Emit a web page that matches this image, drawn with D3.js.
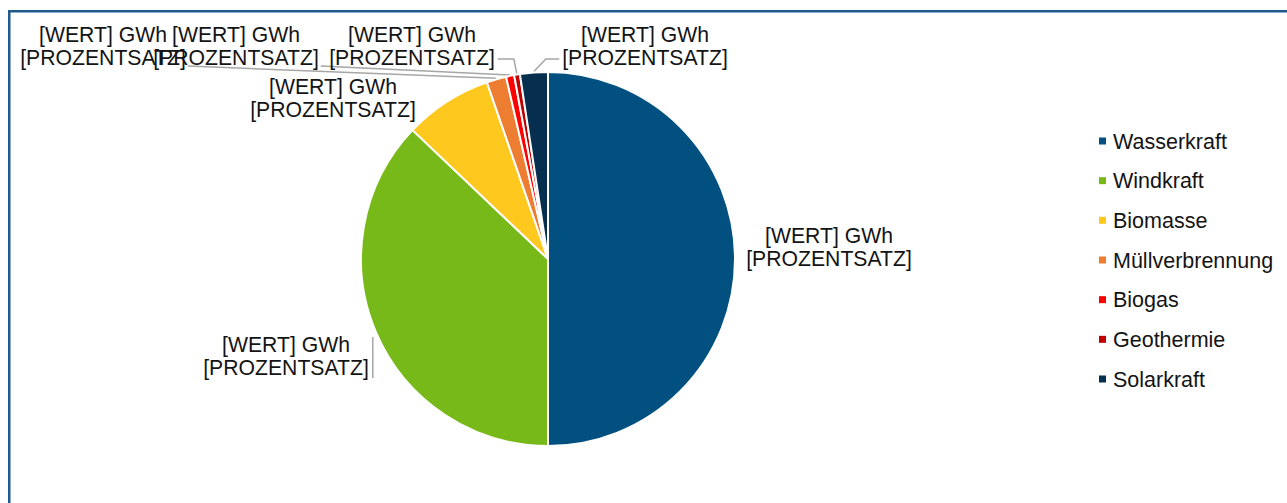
<!DOCTYPE html>
<html>
<head>
<meta charset="utf-8">
<script src="https://cdn.jsdelivr.net/npm/d3@7/dist/d3.min.js"></script>
<style>
  html, body { margin: 0; padding: 0; background: #fff; }
  svg { display: block; }
  text { font-family: "Liberation Sans", Arial, sans-serif; fill: #141414; }
</style>
</head>
<body>
<svg id="chart" width="1287" height="503"></svg>
<script>
// Energy sources and their share of production (%)
const sources = ["Wasserkraft", "Windkraft", "Biomasse", "Müllverbrennung", "Biogas", "Geothermie", "Solarkraft"];
const shares  = [50.0, 37.1, 7.6, 1.7, 0.7, 0.5, 2.4];
const colors  = ["#01507f", "#78b91a", "#fec81e", "#ed7d31", "#ff0000", "#c00000", "#062e4e"];
const labelLines = ["[WERT] GWh", "[PROZENTSATZ]"];

// Label placement (centre x, first baseline) and leader style per slice
const labelPos = [
  { x: 829, y: 243, leader: "none" },
  { x: 286, y: 352, leader: "side" },
  { x: 333, y: 94,  leader: "none" },
  { x: 103, y: 42,  leader: "straight" },
  { x: 236, y: 42,  leader: "straight" },
  { x: 412, y: 42,  leader: "knee" },
  { x: 645, y: 42,  leader: "knee" }
];

const W = 1287, H = 503;
const cx = 548, cy = 259, R = 187;
const fontSize = 21.2, lineH = 23;

const svg = d3.select("#chart");

// chart frame (only top and left edges fall inside the view)
svg.append("rect")
  .attr("x", 9.25).attr("y", 11.25)
  .attr("width", W + 20).attr("height", H + 20)
  .attr("fill", "none").attr("stroke", "#1f5a8c").attr("stroke-width", 2.5);

const data = sources.map((s, i) => ({ name: s, value: shares[i], color: colors[i], pos: labelPos[i] }));

const pie = d3.pie().value(d => d.value).sort(null).startAngle(0).endAngle(2 * Math.PI);
const arcs = pie(data);
const arc = d3.arc().innerRadius(0).outerRadius(R);

const g = svg.append("g").attr("transform", `translate(${cx},${cy})`);
g.selectAll("path.slice")
  .data(arcs)
  .enter().append("path")
  .attr("class", "slice")
  .attr("d", arc)
  .attr("fill", d => d.data.color)
  .attr("stroke", "#fff")
  .attr("stroke-width", 2)
  .attr("stroke-linejoin", "round");

// data labels
const labels = svg.append("g");
const labelNodes = arcs.map(a => {
  const t = labels.append("text")
    .attr("text-anchor", "middle")
    .attr("font-size", fontSize);
  labelLines.forEach((ln, k) => {
    t.append("tspan").attr("x", a.data.pos.x).attr("y", a.data.pos.y + k * lineH).text(ln);
  });
  return t.node();
});

// leader lines from the slice edge to its label
const edgePoint = (a, r) => {
  const m = (a.startAngle + a.endAngle) / 2;
  return [cx + r * Math.sin(m), cy - r * Math.cos(m)];
};
const leaders = svg.insert("g", "g");
arcs.forEach((a, i) => {
  const mode = a.data.pos.leader;
  if (mode === "none") return;
  const bb = labelNodes[i].getBBox();
  const p0 = edgePoint(a, R + 1);
  let pts;
  if (mode === "side") {
    const x = bb.x + bb.width + 4;
    pts = [[x, p0[1] + 4], [x, bb.y + bb.height - 2]];
  } else if (mode === "straight") {
    const end = [bb.x + bb.width + 2, bb.y + bb.height - 4];
    pts = [end, p0];
  } else {
    const yL = bb.y + bb.height - 11;
    const left = (bb.x + bb.width / 2) < p0[0];
    const endX = left ? bb.x + bb.width + 3 : bb.x - 3;
    const kneeX = left ? p0[0] - 3 : p0[0] + 12;
    pts = [[endX, yL], [kneeX, yL], p0];
  }
  leaders.append("path")
    .attr("d", d3.line()(pts))
    .attr("fill", "none")
    .attr("stroke", "#a6a6a6")
    .attr("stroke-width", 1.5);
});

// legend
const legendY = d3.scalePoint().domain(sources).range([141, 379]);
const legend = svg.append("g");
const item = legend.selectAll("g").data(data).enter().append("g")
  .attr("transform", d => `translate(1099,${legendY(d.name)})`);
item.append("rect")
  .attr("x", 0).attr("y", -3.5).attr("width", 7).attr("height", 7)
  .attr("fill", d => d.color);
item.append("text")
  .attr("x", 14).attr("y", 7.5)
  .attr("font-size", 21.5)
  .text(d => d.name);
</script>
</body>
</html>
